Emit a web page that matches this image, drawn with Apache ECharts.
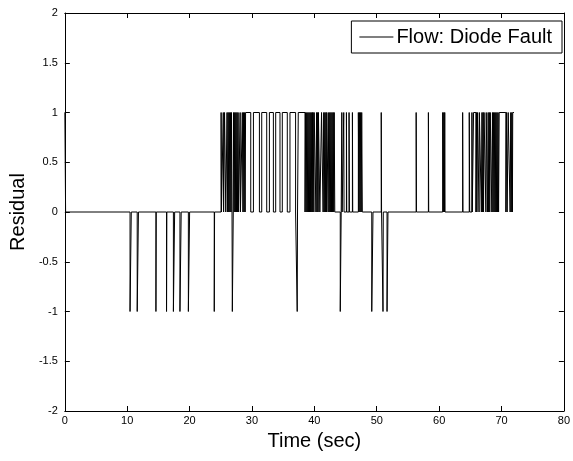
<!DOCTYPE html>
<html>
<head>
<meta charset="utf-8">
<script src="https://cdn.jsdelivr.net/npm/echarts@6/dist/echarts.min.js"></script>
<style>
html,body{margin:0;padding:0;background:#fff;}
#chart{width:573px;height:461px;}
</style>
</head>
<body>
<div id="chart"></div>
<script>
// Step signal: value holds from each time until the next time
const stepTimes = [
  0, 0.12,
  10.45, 10.65, 11.6, 11.8, 14.6, 14.65, 16.3, 16.35,
  17.4, 17.6, 18.45, 18.65, 19.8, 20.0, 23.95, 24.0,
  25.05, 25.1, 25.4, 25.45, 25.6, 25.8,
  26.0, 26.1, 26.18, 26.28, 26.36, 26.46, 26.54, 26.64, 26.72, 26.8,
  26.85, 27.0,
  27.05, 27.15, 27.23, 27.33, 27.41, 27.51, 27.59, 27.69, 27.77, 27.85,
  28.1, 28.15,
  28.45, 28.55, 28.63, 28.73, 28.81, 28.9, 28.97,
  29.8, 30.23, 31.19, 31.56, 32.36, 32.79, 33.43, 33.8, 34.49, 34.86, 35.66, 36.09,
  36.99, 37.25, 37.3, 37.42,
  38.5, 38.6, 38.68, 38.78, 38.86, 38.96, 39.04, 39.14, 39.22, 39.32, 39.4, 39.5, 39.58, 39.68, 39.74, 39.8,
  39.92, 39.97, 40.25, 40.35, 40.43, 40.53, 40.6, 40.65, 40.88, 41.15,
  41.4, 41.5, 41.58, 41.68, 41.76, 41.86, 41.94, 42.0,
  42.2, 42.3, 42.38, 42.48, 42.56, 42.66, 42.74, 42.84, 42.92, 43.02, 43.1, 43.18, 43.27,
  44.15, 44.3, 44.4, 44.45, 44.71, 44.76, 45.14, 45.19, 45.56, 45.61, 46.1, 46.15,
  47.05, 47.15, 47.23, 47.33, 47.41, 47.51, 47.59, 47.69,
  49.2, 49.4, 50.72, 50.77, 51.0, 51.05, 51.65, 51.8,
  56.32, 56.37, 58.28, 58.33, 60.57, 60.67, 60.75, 60.85, 60.9, 60.95,
  63.77, 63.82, 64.83, 64.9, 65.26, 65.31,
  65.52, 65.9, 65.98, 66.06, 66.16, 66.4, 66.45,
  66.77, 66.87, 66.95, 67.05, 67.12, 67.2, 67.5, 67.55,
  67.76, 67.86, 67.94, 68.04, 68.12, 68.2,
  68.45, 68.55, 68.63, 68.73, 68.81, 68.91, 68.99, 69.09, 69.17, 69.27, 69.35, 69.45, 69.53, 69.63,
  70.7, 70.8, 70.9, 71.07, 71.38, 71.48, 71.56, 71.66, 71.75, 71.8, 72.0
];
const stepValues = [
  1, 0,
  -1, 0, -1, 0, -1, 0, -1, 0,
  -1, 0, -1, 0, -1, 0, -1, 0,
  1, 0, 1, 0, 1, 0,
  1, 0, 1, 0, 1, 0, 1, 0, 1, 0,
  -1, 0,
  1, 0, 1, 0, 1, 0, 1, 0, 1, 0,
  1, 0,
  1, 0, 1, 0, 1, 0, 1,
  0, 1, 0, 1, 0, 1, 0, 1, 0, 1, 0, 1,
  0, -1, 0, 1,
  0, 1, 0, 1, 0, 1, 0, 1, 0, 1, 0, 1, 0, 1, 0, 1,
  0, 1, 0, 1, 0, 1, 0, 1, 0, 1,
  0, 1, 0, 1, 0, 1, 0, 1,
  0, 1, 0, 1, 0, 1, 0, 1, 0, 1, 0, 1, 0,
  -1, 0, 1, 0, 1, 0, 1, 0, 1, 0, 1, 0,
  1, 0, 1, 0, 1, 0, 1, 0,
  -1, 0, 1, 0, -1, 0, -1, 0,
  1, 0, 1, 0, 1, 0, 1, 0, 1, 0,
  1, 0, 1, 0, 1, 0,
  1, 0, 1, 0, 1, 0, 1,
  0, 1, 0, 1, 0, 1, 0, 1,
  0, 1, 0, 1, 0, 1,
  0, 1, 0, 1, 0, 1, 0, 1, 0, 1, 0, 1, 0, 1,
  0, 1, 0, 1, 0, 1, 0, 1, 0, 1, 1
];
const xTicks = { min: 0, max: 80, interval: 10 };
const yTicks = { min: -2, max: 2, interval: 0.5 };
const seriesName = 'Flow: Diode Fault';
const xName = 'Time (sec)';
const yName = 'Residual';

const data = stepTimes.map((t, i) => [t, stepValues[i]]);
const FONT = '"Liberation Sans", Arial, Helvetica, sans-serif';

const chart = echarts.init(document.getElementById('chart'), null, { renderer: 'canvas' });
const axisLine = { show: true, onZero: false, lineStyle: { color: '#000', width: 1 } };
const tick = { show: true, inside: true, length: 5, lineStyle: { color: '#000', width: 1 } };
chart.setOption({
  animation: false,
  backgroundColor: '#fff',
  grid: { left: 64, right: 8, top: 13, bottom: 50, containLabel: false },
  legend: {
    data: [{ name: seriesName, icon: 'rect' }],
    right: 11, top: 21,
    orient: 'vertical',
    backgroundColor: '#fff',
    borderColor: '#000', borderWidth: 1, borderRadius: 0,
    padding: [6, 10, 6, 8],
    itemWidth: 34, itemHeight: 1, itemGap: 0,
    itemStyle: { color: '#000', borderWidth: 0 },
    textStyle: { fontFamily: FONT, fontSize: 20, color: '#000', padding: [0, 0, 0, -2] }
  },
  xAxis: [
    {
      type: 'value', position: 'bottom', min: xTicks.min, max: xTicks.max, interval: xTicks.interval,
      axisLine, axisTick: tick, splitLine: { show: false },
      axisLabel: { color: '#000', fontFamily: FONT, fontSize: 11, margin: 4 },
      name: xName, nameLocation: 'middle', nameGap: 20,
      nameTextStyle: { fontFamily: FONT, fontSize: 20, color: '#000' }
    },
    {
      type: 'value', position: 'top', min: xTicks.min, max: xTicks.max, interval: xTicks.interval,
      axisLine, axisTick: tick, splitLine: { show: false }, axisLabel: { show: false }
    }
  ],
  yAxis: [
    {
      type: 'value', position: 'left', min: yTicks.min, max: yTicks.max, interval: yTicks.interval,
      axisLine, axisTick: tick, splitLine: { show: false },
      axisLabel: { color: '#000', fontFamily: FONT, fontSize: 11, margin: 7 },
      name: yName, nameLocation: 'middle', nameGap: 28,
      nameTextStyle: { fontFamily: FONT, fontSize: 20, color: '#000' }
    },
    {
      type: 'value', position: 'right', min: yTicks.min, max: yTicks.max, interval: yTicks.interval,
      axisLine, axisTick: tick, splitLine: { show: false }, axisLabel: { show: false }
    }
  ],
  series: [{
    name: seriesName,
    type: 'line',
    step: 'end',
    data: data,
    symbol: 'none',
    showSymbol: false,
    xAxisIndex: 0, yAxisIndex: 0,
    lineStyle: { color: '#000', width: 1 },
    itemStyle: { color: '#000' }
  }]
});
</script>
</body>
</html>
